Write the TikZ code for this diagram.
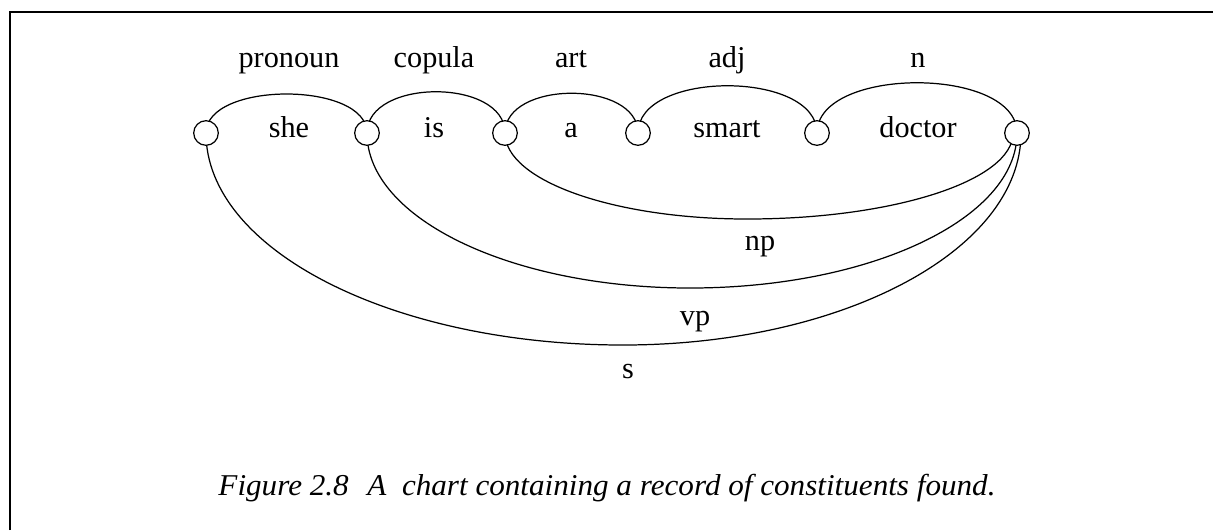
\documentclass[tikz,border=0pt]{standalone}
\usepackage{fontspec}
\setmainfont{Liberation Serif}
\usetikzlibrary{calc}

\begin{document}
\begin{tikzpicture}[line width=0.35pt,
    lbl/.style={anchor=base, inner sep=0pt, font=\fontsize{8.6}{9}\selectfont},
    capt/.style={anchor=base, inner sep=0pt, font=\itshape\fontsize{8.6}{9}\selectfont, xscale=1.03},
    dot/.style={draw, fill=white, circle, minimum size=2.46mm, inner sep=0pt}]
    \useasboundingbox (0, 0) rectangle (12.13, 5.30);

    % Rahmen
    \draw[line width=0.6pt] (0.10, 0) -- (0.10, 5.18) -- (12.13, 5.18);

    % Knoten der Kette
    \foreach \x [count=\i from 0] in {2.06, 3.67, 5.05, 6.38, 8.17, 10.17} {
        \coordinate (p\i) at (\x, 3.97);
    }

    % Woerter und Wortarten
    \foreach \x/\w/\c in {2.89/she/pronoun, 4.34/is/copula, 5.71/a/art, 7.27/smart/adj, 9.18/doctor/n} {
        \node[lbl] (w-\w) at (\x, 3.93) {\w};
        \node[lbl] (cat-\c) at (\x, 4.63) {\c};
    }

    % lexikalische Kanten oben
    \draw (p0) .. controls +(0, 0.52) and +(0, 0.52) .. (p1);
    \draw (p1) .. controls +(0, 0.55) and +(0, 0.55) .. (p2);
    \draw (p2) .. controls +(0, 0.53) and +(0, 0.53) .. (p3);
    \draw (p3) .. controls +(0, 0.63) and +(0, 0.63) .. (p4);
    \draw (p4) .. controls +(0, 0.67) and +(0, 0.67) .. (p5);

    % Konstituenten unten
    \coordinate (bnp) at (7.47, 3.11);
    \coordinate (bvp) at (6.90, 2.42);
    \coordinate (bs) at (6.23, 1.85);
    \draw (p2) .. controls +(0, -0.475) and +(-1.337, 0) .. (bnp)
               .. controls +(1.469, 0) and +(0, -0.475) .. ([xshift=-0.4mm]p5);
    \draw (p1) .. controls +(0, -0.856) and +(-1.784, 0) .. (bvp)
               .. controls +(1.806, 0) and +(0, -0.856) .. (p5);
    \draw (p0) .. controls +(0, -1.171) and +(-2.303, 0) .. (bs)
               .. controls +(2.198, 0) and +(0, -1.171) .. ([xshift=0.4mm]p5);
    \node[lbl] (np) at (7.60, 2.80) {np};
    \node[lbl] (vp) at (6.95, 2.05) {vp};
    \node[lbl] (s) at (6.28, 1.52) {s};

    % Kreise obenauf
    \foreach \i in {0, ..., 5} {
        \node[dot] (c\i) at (p\i) {};
    }

    % Bildunterschrift
    \node[capt] (cap) at (6.07, 0.35) {Figure 2.8\hspace{0.6em}A\hspace{0.5em}chart containing a record of constituents found.};
\end{tikzpicture}
\end{document}
